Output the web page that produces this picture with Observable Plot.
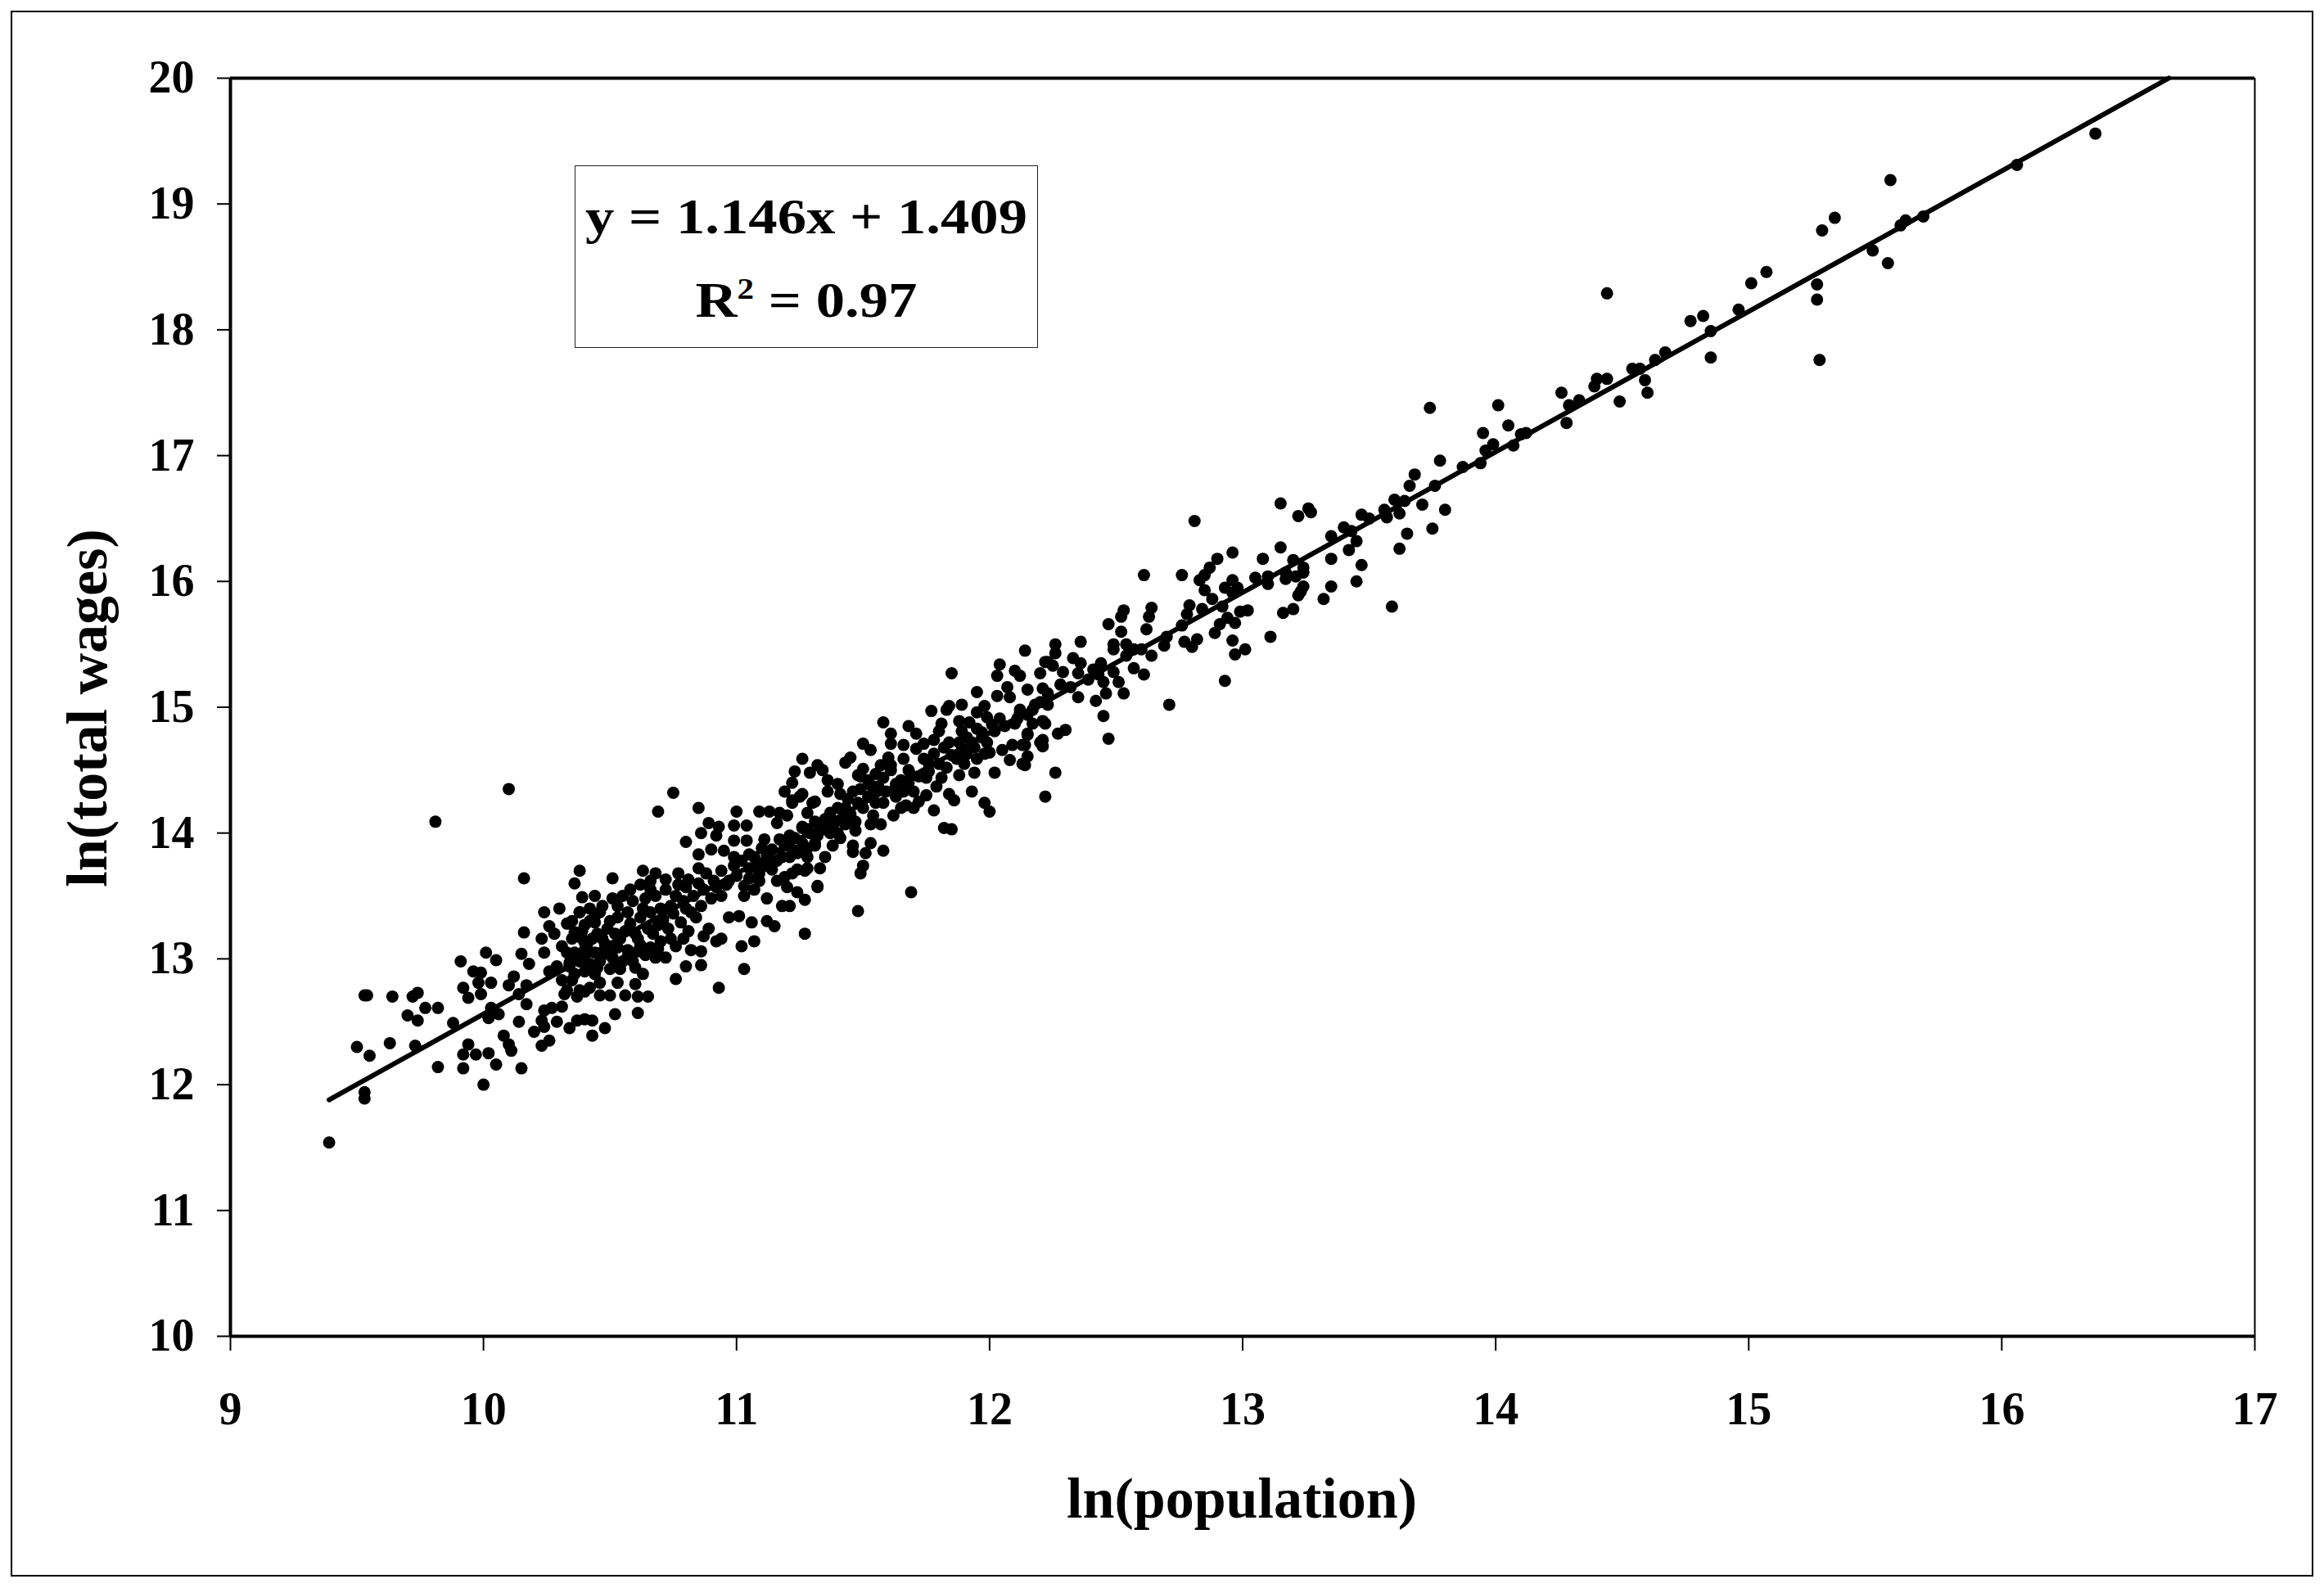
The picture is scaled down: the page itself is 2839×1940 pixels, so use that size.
<!DOCTYPE html>
<html>
<head>
<meta charset="utf-8">
<script src="https://cdn.jsdelivr.net/npm/d3@7"></script>
<script src="https://cdn.jsdelivr.net/npm/@observablehq/plot@0.6"></script>
<style>
  html, body { margin: 0; padding: 0; background: #fff; }
  #wrap { position: relative; width: 2839px; height: 1940px; overflow: hidden;
          font-family: "Liberation Serif", "Times New Roman", serif; font-weight: bold; color: #000; }
  #wrap svg { position: absolute; left: 0; top: 0; }
  #outer { position: absolute; left: 13px; top: 13px; width: 2813px; height: 1913px;
           border: 2px solid #000; box-sizing: border-box; }
  .title { position: absolute; font-size: 70px; line-height: 70px; height: 70px; text-align: center; white-space: nowrap; }
  #ytitle { left: -243px; top: 830px; width: 700px; transform: rotate(-90deg); }
  #xtitle { left: 817px; top: 1796px; width: 1400px; }
  #eqbox { position: absolute; left: 702px; top: 202px; width: 566px; height: 223px;
           border: 1.5px solid #222; box-sizing: border-box; background: #fff; }
  #eqtext { position: absolute; left: 0; right: 0; top: 10px; text-align: center;
            font-size: 62px; line-height: 102px; transform: scaleX(1.14); white-space: nowrap; }
  .sup { font-size: 36px; position: relative; top: -22px; }
</style>
</head>
<body>
<div id="wrap">
  <div id="outer"></div>
</div>
<script>
// Axis settings
const xDomain = [9, 17];
const yDomain = [10, 20];
const xTicks = [9, 10, 11, 12, 13, 14, 15, 16, 17];
const yTicks = [10, 11, 12, 13, 14, 15, 16, 17, 18, 19, 20];

// Fitted line as drawn in the chart (ln(population), ln(total wages))
const trendX = [9.39, 16.66];
const trendY = [11.88, 20.0];

// Observations: [ln(population), ln(total wages)], grouped by region of the plot
const pointsLow = [
  [9.81,14.09],[10.10,14.35],[10.38,13.70],[10.16,13.64],[10.36,13.60],[10.39,13.49],[10.38,13.37],[10.24,13.37],[10.33,13.28],[10.26,13.26],
  [10.28,13.20],[10.16,13.21],[10.23,13.16],[10.24,13.05],[10.39,13.22],[10.40,13.13],[10.15,13.04],[10.18,12.96],[10.01,13.05],[10.05,12.99],
  [9.91,12.98],[9.96,12.90],[9.98,12.81],[9.99,12.89],[10.03,12.81],[10.12,12.86],[10.10,12.79],[9.92,12.77],[9.94,12.69],[9.99,12.72],
  [10.03,12.61],[10.02,12.53],[10.06,12.56],[10.14,12.72],[10.17,12.79],[10.17,12.64],[10.26,12.90],[10.29,12.94],[10.34,12.97],[10.38,13.03],
  [10.32,12.72],[10.37,12.70],[10.40,12.74],[10.35,12.83],[10.24,12.59],[10.27,12.61],[10.23,12.51],[10.29,12.50],[10.20,12.42],[10.24,12.46],
  [10.26,12.35],[10.23,12.31],[10.34,12.45],[10.37,12.51],[10.40,12.52],[10.14,12.50],[10.08,12.39],[10.10,12.32],[10.11,12.27],[9.88,12.49],
  [9.53,12.71],[9.54,12.71],[9.64,12.70],[9.72,12.70],[9.74,12.73],[9.77,12.61],[9.82,12.61],[9.70,12.55],[9.74,12.51],[9.50,12.30],
  [9.55,12.23],[9.63,12.33],[9.73,12.31],[9.94,12.32],[9.92,12.24],[9.97,12.24],[10.02,12.25],[10.05,12.16],[9.82,12.14],[9.92,12.13],
  [10.15,12.13],[10.00,12.00],[9.53,11.94],[9.53,11.89],[9.39,11.54],[10.31,13.10],[10.35,13.16],[10.42,13.30],[10.30,13.40],[10.33,13.05]
];

const pointsLowMid = [
  [11.26,14.59],[11.23,14.49],[11.22,14.40],[11.29,14.48],[11.32,14.54],[10.75,14.32],[10.69,14.17],[10.85,14.20],[11.00,14.17],[11.09,14.17],
  [11.13,14.17],[11.19,14.33],[11.22,14.26],[11.25,14.29],[11.31,14.25],[11.17,14.16],[11.20,14.14],[11.16,14.08],[11.26,14.04],[11.31,14.09],
  [10.89,14.08],[10.93,14.05],[10.86,14.00],[10.92,13.98],[10.99,14.06],[11.04,14.06],[10.80,13.93],[10.90,13.87],[10.85,13.83],[10.85,13.72],
  [10.95,13.86],[10.99,13.94],[11.04,13.94],[10.99,13.81],[11.05,13.83],[11.11,13.95],[11.17,13.95],[11.10,13.88],[11.14,13.87],[11.21,13.81],
  [11.24,13.71],[11.28,13.81],[11.27,13.70],[11.31,13.92],[11.32,13.58],[10.94,13.70],[10.99,13.74],[11.05,13.72],[11.11,13.74],[11.14,13.71],
  [11.19,13.65],[11.20,13.57],[11.24,13.53],[11.27,13.47],[11.18,13.42],[11.21,13.42],[11.12,13.48],[11.07,13.55],[11.03,13.50],[10.97,13.33],
  [11.01,13.34],[11.06,13.29],[11.12,13.30],[11.15,13.26],[11.27,13.20],[11.07,13.14],[11.02,13.10],[10.94,13.16],[10.92,13.14],[11.03,12.92],
  [10.93,12.77],[10.89,13.24],[10.87,13.18],[10.86,13.06],[10.82,13.07],[10.80,12.94],[10.86,12.95],[10.76,12.84],[10.63,12.88],[10.60,12.80],
  [10.56,12.71],[10.61,12.70],[10.65,12.70],[10.46,12.81],[10.53,12.81],[10.46,12.71],[10.50,12.71],[10.52,12.56],[10.61,12.57],[10.43,12.51],
  [10.48,12.45],[10.51,13.64],[10.44,13.50],[10.63,13.70],[10.62,13.59],[10.66,13.62],[10.43,12.39],[11.48,13.38]
];

const pointsCluster = [
  [10.38,13.37],[10.42,13.40],[10.46,13.37],[10.51,13.48],[10.55,13.50],[10.59,13.46],[10.64,13.48],[10.68,13.50],[10.72,13.55],[10.77,13.59],
  [10.80,13.57],[10.40,13.27],[10.44,13.29],[10.49,13.24],[10.53,13.33],[10.57,13.37],[10.62,13.33],[10.66,13.37],[10.70,13.40],[10.74,13.42],
  [10.79,13.46],[10.83,13.50],[10.87,13.55],[10.92,13.57],[10.96,13.59],[10.39,13.16],[10.43,13.16],[10.47,13.16],[10.52,13.20],[10.56,13.22],
  [10.60,13.20],[10.65,13.24],[10.69,13.27],[10.73,13.24],[10.78,13.29],[10.82,13.37],[10.86,13.42],[10.90,13.48],[10.36,13.05],[10.40,13.07],
  [10.44,13.05],[10.49,13.07],[10.53,13.09],[10.57,13.07],[10.62,13.11],[10.66,13.09],[10.70,13.14],[10.74,13.16],[10.79,13.16],[10.84,13.33],
  [10.34,12.94],[10.38,12.98],[10.42,12.96],[10.46,12.98],[10.51,13.01],[10.55,12.98],[10.59,12.98],[10.64,13.03],[10.68,13.01],[10.72,13.01],
  [10.31,12.83],[10.36,12.88],[10.40,12.90],[10.44,12.88],[10.50,12.92],[10.54,12.92],[10.33,12.75],[10.38,12.75],[10.42,12.77],[10.31,12.62],
  [11.05,13.64],[11.09,13.68],[11.13,13.77],[11.18,13.81],[11.22,13.87],[11.26,13.92],[11.31,13.98],[11.07,13.81],[11.00,13.66],[10.94,13.50],
  [10.88,13.68],[10.81,13.63],[10.77,13.68],[10.72,13.63],[10.68,13.68],[11.21,13.98]
];

const pointsClusterCore = [
  [10.36,13.21],[10.41,13.12],[10.45,13.20],[10.48,13.12],[10.50,13.30],[10.54,13.16],[10.58,13.28],[10.61,13.16],[10.63,13.40],[10.67,13.20],
  [10.71,13.31],[10.75,13.36],[10.76,13.50],[10.80,13.40],[10.47,13.42],[10.58,13.55],[10.66,13.55],[10.37,13.00],[10.47,13.03],[10.57,13.02],
  [10.61,13.06],[10.69,13.08],[10.76,13.10],[10.81,13.22],[10.45,12.93],[10.52,12.95],[10.60,12.93],[10.35,13.30],[10.44,13.34],[10.53,13.42]
];

const pointsBand = [
  [11.02,13.78],[11.08,13.76],[11.12,13.82],[11.16,13.78],[11.19,13.90],[11.24,13.84],[11.28,13.88],[11.03,13.58],[11.09,13.62],[11.16,13.62],
  [10.97,13.62],[10.91,13.62],[10.85,13.60],[11.29,14.00],[11.34,14.03],[11.38,14.05],[11.42,14.12],[11.45,14.15],[11.50,14.20],[11.54,14.30],
  [11.59,14.33],[11.63,14.35],[11.68,14.40],[11.72,14.45],[11.76,14.49],[11.80,14.55],[11.85,14.62],[11.89,14.66],[11.93,14.72],[11.97,14.80],
  [12.01,14.86],[11.44,14.27],[11.49,14.35],[11.55,14.47],[11.60,14.60],[11.40,14.00],[11.47,14.02],[11.54,14.14],[11.70,14.20],[11.75,14.30],
  [11.81,14.44],[11.90,14.55],[12.00,14.64]
];

const pointsMid = [
  [12.14,15.45],[12.22,15.36],[12.04,15.34],[12.03,15.25],[12.10,15.29],[12.12,15.25],[12.20,15.27],[11.85,15.27],[11.95,15.12],[12.07,15.16],
  [12.03,15.09],[12.08,15.08],[12.15,15.14],[12.21,15.15],[11.77,14.97],[11.84,15.01],[11.83,14.98],[11.89,15.02],[11.98,15.01],[11.95,14.96],
  [11.99,14.92],[12.04,14.91],[11.92,14.88],[11.88,14.89],[11.81,14.87],[12.12,14.96],[12.17,14.98],[12.20,15.04],[11.58,14.88],[11.68,14.85],
  [11.71,14.79],[11.61,14.79],[11.61,14.71],[11.66,14.70],[11.50,14.71],[11.53,14.66],[11.71,14.67],[11.66,14.59],[11.74,14.71],[11.80,14.81],
  [11.78,14.74],[11.89,14.81],[11.88,14.72],[11.95,14.83],[11.97,14.76],[11.94,14.68],[11.98,14.63],[12.05,14.66],[12.09,14.70],[12.13,14.70],
  [12.15,14.79],[12.20,14.72],[12.21,14.89],[12.08,14.58],[12.13,14.55],[12.15,14.61],[12.02,14.48],[11.94,14.48],[11.83,14.52],[11.88,14.46],
  [11.79,14.37],[11.84,14.31],[11.86,14.26],[11.93,14.33],[11.98,14.24],[12.00,14.17],[12.22,14.29],[11.78,14.18],[11.82,14.04],[11.85,14.03],
  [11.75,14.44],[11.76,14.55],[11.69,14.46],[11.65,14.42],[11.61,14.50],[11.57,14.54],[11.61,14.54],[11.45,14.60],[11.43,14.56],[11.50,14.51],
  [11.49,14.45],[11.52,14.42],[11.58,14.44],[11.53,14.38],[11.70,14.33],[11.66,14.33],[11.67,14.22],[11.72,14.25],[11.63,14.29],[11.65,14.20],
  [11.58,14.24],[11.55,14.24],[11.62,14.14],[11.57,14.07],[11.53,14.07],[11.53,13.92],[11.51,13.84],[11.58,13.86],[11.50,13.74],[11.49,13.68],
  [11.46,13.85],[11.36,14.42],[11.40,14.39],[11.34,14.50],[11.36,14.33],[11.41,14.31],[11.46,14.33],[11.48,14.46],[11.26,14.31],[11.22,14.24],
  [11.30,14.24],[11.28,14.16],[11.40,14.20],[11.35,14.11],[11.39,14.09],[11.43,14.07],[11.47,14.09],[11.26,14.05],[11.32,13.98],[11.37,14.00],
  [11.41,13.96],[11.23,13.96],[11.38,13.90],[11.46,13.90],[11.31,13.90],[11.35,13.81],[11.28,13.72],[11.33,13.72],[11.22,13.68],[11.32,13.57],
  [11.69,13.53],[11.74,14.59],[11.78,14.63],[11.82,14.68],[11.87,14.59],[11.91,14.63],[11.95,14.59],[11.99,14.72],[12.02,14.81],[12.06,14.85],
  [12.10,14.87],[11.91,14.76],[11.84,14.72],[11.68,14.50],[11.63,14.39],[11.56,14.37],[11.52,14.29],[11.48,14.24],[11.43,14.20],[11.37,14.16],
  [11.33,14.07],[11.28,14.03]
];

const pointsUpperMid = [
  [13.15,16.62],[13.22,16.52],[13.26,16.58],[12.81,16.48],[13.15,16.27],[13.08,16.18],[12.96,16.23],[12.90,16.18],[12.87,16.11],[12.85,16.05],
  [12.83,16.01],[12.85,15.93],[12.61,16.05],[12.76,16.05],[13.20,16.17],[13.24,16.11],[13.17,16.02],[13.21,16.04],[13.05,16.03],[13.10,16.04],
  [13.10,15.98],[12.96,16.01],[12.93,15.95],[12.96,15.91],[12.98,15.95],[12.88,15.86],[13.23,15.92],[13.22,15.89],[13.20,15.78],[13.16,15.75],
  [13.02,15.77],[12.99,15.76],[12.92,15.80],[12.79,15.81],[12.78,15.74],[12.84,15.78],[12.64,15.79],[12.63,15.72],[12.62,15.62],[12.53,15.77],
  [12.52,15.72],[12.47,15.66],[12.52,15.60],[12.76,15.65],[12.70,15.56],[12.69,15.49],[12.77,15.52],[12.80,15.48],[12.82,15.54],[12.89,15.59],
  [12.91,15.66],[12.94,15.71],[12.97,15.67],[12.96,15.53],[12.97,15.42],[13.01,15.46],[13.11,15.56],[12.93,15.21],[12.71,15.02],[12.49,15.50],
  [12.49,15.46],[12.54,15.50],[12.57,15.46],[12.54,15.41],[12.60,15.46],[12.64,15.41],[12.57,15.31],[12.61,15.26],[12.44,15.35],[12.43,15.26],
  [12.45,15.20],[12.49,15.28],[12.51,15.20],[12.53,15.11],[12.46,15.11],[12.42,15.05],[12.45,14.93],[12.47,14.75],[12.36,15.52],[12.26,15.50],
  [12.26,15.43],[12.33,15.39],[12.36,15.35],[12.23,15.36],[12.25,15.33],[12.29,15.28],[12.35,15.27],[12.28,15.18],[12.32,15.16],[12.39,15.22],
  [12.35,15.08],[12.23,15.11],[12.18,15.02],[12.23,15.02],[12.12,14.98],[12.11,14.91],[12.15,14.94],[12.17,14.87],[12.22,14.87],[12.27,14.79],
  [12.30,14.82],[12.15,14.78],[12.21,14.74],[12.21,14.69],[12.14,14.70],[12.14,14.54],[12.26,14.48],[12.41,15.30]
];

const pointsUpper = [
  [13.74,17.38],[14.01,17.40],[14.05,17.24],[13.95,17.18],[13.99,17.09],[13.96,17.04],[14.07,17.08],[14.10,17.17],[14.12,17.18],[13.78,16.96],
  [13.87,16.91],[13.94,16.94],[13.68,16.85],[13.66,16.76],[13.76,16.76],[13.60,16.65],[13.64,16.64],[13.71,16.61],[13.62,16.54],[13.57,16.51],
  [13.56,16.57],[13.80,16.57],[13.27,16.55],[13.47,16.53],[13.50,16.50],[13.40,16.43],[13.43,16.40],[13.35,16.36],[13.45,16.32],[13.65,16.38],
  [13.75,16.42],[13.62,16.26],[13.42,16.25],[13.35,16.18],[13.47,16.13],[13.17,16.07],[13.24,16.07],[13.45,16.00],[13.35,15.96],[13.24,15.96],
  [13.32,15.86],[13.59,15.80]
];

const pointsTop = [
  [15.34,18.89],[15.29,18.79],[14.44,18.29],[15.07,18.46],[15.01,18.37],[15.27,18.36],[15.27,18.24],[15.28,17.76],[14.96,18.16],[14.77,18.07],
  [14.82,18.11],[14.85,17.99],[14.85,17.78],[14.67,17.82],[14.63,17.76],[14.54,17.69],[14.57,17.69],[14.59,17.60],[14.60,17.50],[14.40,17.61],
  [14.44,17.61],[14.39,17.55],[14.49,17.43],[14.26,17.50],[14.33,17.44],[14.29,17.40],[14.28,17.26],[16.37,19.56],[16.06,19.31],[15.56,19.19],
  [15.62,18.87],[15.69,18.90],[15.60,18.83],[15.49,18.63],[15.55,18.53]
];

const points = [...pointsLow, ...pointsLowMid, ...pointsCluster, ...pointsClusterCore, ...pointsBand,
                ...pointsMid, ...pointsUpperMid, ...pointsUpper, ...pointsTop];
const trend = trendX.map((x, i) => ({x, y: trendY[i]}));

const chart = Plot.plot({
  width: 2839,
  height: 1940,
  marginLeft: 281,
  marginRight: 85,
  marginTop: 95,
  marginBottom: 308,
  x: {domain: xDomain},
  y: {domain: yDomain},
  style: {fontFamily: "'Liberation Serif', 'Times New Roman', serif", fontWeight: "bold", background: "transparent", color: "#000", overflow: "visible"},
  marks: [
    Plot.axisX({ticks: xTicks, tickSize: 18, tickPadding: 50, fontSize: 56, fontWeight: "bold", strokeWidth: 2, label: null, tickFormat: d => String(d)}),
    Plot.axisY({ticks: yTicks, tickSize: 16, tickPadding: 28, fontSize: 56, fontWeight: "bold", strokeWidth: 2, label: null, tickFormat: d => String(d)}),
    Plot.dot(points, {x: d => d[0], y: d => d[1], r: 7.5, fill: "#000"}),
    Plot.line(trend, {x: "x", y: "y", stroke: "#000", strokeWidth: 6}),
    Plot.ruleX([xDomain[0]], {stroke: "#000", strokeWidth: 4}),
    Plot.ruleX([xDomain[1]], {stroke: "#000", strokeWidth: 2}),
    Plot.ruleY([yDomain[0]], {stroke: "#000", strokeWidth: 4}),
    Plot.ruleY([yDomain[1]], {stroke: "#000", strokeWidth: 4})
  ]
});

const wrap = document.getElementById("wrap");
wrap.appendChild(chart);

const eqbox = document.createElement("div");
eqbox.id = "eqbox";
eqbox.innerHTML = '<div id="eqtext">y = 1.146x + 1.409<br>R<span class="sup">2</span> = 0.97</div>';
wrap.appendChild(eqbox);

const ytitle = document.createElement("div");
ytitle.className = "title";
ytitle.id = "ytitle";
ytitle.textContent = "ln(total wages)";
wrap.appendChild(ytitle);

const xtitle = document.createElement("div");
xtitle.className = "title";
xtitle.id = "xtitle";
xtitle.textContent = "ln(population)";
wrap.appendChild(xtitle);
</script>
</body>
</html>
